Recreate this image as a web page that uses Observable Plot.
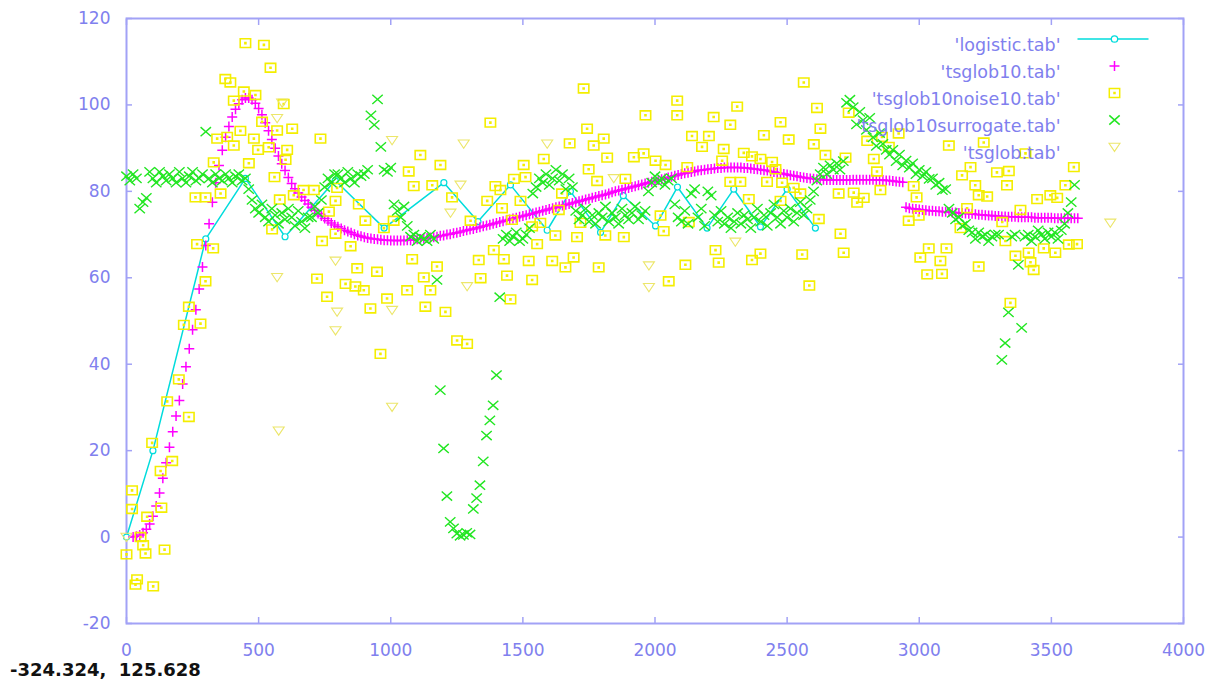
<!DOCTYPE html>
<html><head><meta charset="utf-8">
<script src="https://cdn.jsdelivr.net/npm/d3@7"></script>
<script src="https://cdn.jsdelivr.net/npm/@observablehq/plot@0.6"></script>
<style>
body{margin:0;background:#fff;}
#wrap{position:relative;width:1216px;height:686px;overflow:hidden;}
#readout{position:absolute;left:10px;top:659px;font:bold 18px "DejaVu Sans";line-height:21px;color:#111;white-space:pre;}
</style></head><body><div id="wrap"><div id="readout"></div></div>
<script>
// ---------- data ----------
const xTicks = [0, 500, 1000, 1500, 2000, 2500, 3000, 3500, 4000];
const yTicks = [-20, 0, 20, 40, 60, 80, 100, 120];
const legendLabels = ["'logistic.tab'", "'tsglob10.tab'", "'tsglob10noise10.tab'", "'tsglob10surrogate.tab'", "'tsglob.tab'"];
const readoutText = "-324.324,  125.628";

// logistic.tab (line + points)
const logisticX = [0, 100, 300, 450, 600, 790, 975, 1201, 1330, 1453, 1592, 1680, 1794, 1880, 2002, 2085, 2197, 2298, 2399, 2500, 2607];
const logisticY = [0, 20, 69, 83, 69.5, 82.5, 71.5, 82, 73, 81.5, 71, 80, 70.5, 79, 72, 81, 71.5, 80.5, 71.8, 80.5, 71.5];

// tsglob10.tab : time index starts at 25, step 12.5
const tsglob10Start = 25, tsglob10Step = 12.5;
const tsglob10 = [
 0, 0.2, 0.5, 1.0, 1.8, 3.0, 4.8, 7.2,
 10.2, 13.6, 17.2, 20.8, 24.4, 28, 31.6, 35.4,
 39.4, 43.6, 48, 52.6, 57.4, 62.5, 67.5, 72.5,
 77.5, 82, 86, 89.5, 92.5, 95, 97.2, 99,
 100.3, 101.2, 101.6, 101.6, 101.2, 100.4, 99.2, 97.7,
 95.9, 94, 92, 90, 88.2, 86.4, 84.8, 83.2,
 81.8, 80.6, 79.6, 78.7, 77.9, 77.1, 76.3, 75.6,
 74.9, 74.3, 73.7, 73.2, 72.7, 72.2, 71.8, 71.4,
 71, 70.7, 70.4, 70.1, 69.8, 69.6, 69.4, 69.2,
 69.1, 69, 68.9, 68.8, 68.7, 68.7, 68.6, 68.6,
 68.6, 68.6, 68.6, 68.7, 68.7, 68.8, 68.9, 69,
 69.1, 69.2, 69.3, 69.4, 69.5, 69.7, 69.8, 70,
 70.1, 70.3, 70.4, 70.6, 70.8, 71, 71.2, 71.3,
 71.5, 71.7, 71.9, 72.1, 72.3, 72.5, 72.7, 72.9,
 73.1, 73.3, 73.5, 73.7, 73.9, 74.1, 74.3, 74.5,
 74.7, 74.9, 75.1, 75.3, 75.5, 75.7, 75.9, 76.1,
 76.3, 76.5, 76.7, 76.9, 77.1, 77.3, 77.5, 77.7,
 77.9, 78.1, 78.3, 78.5, 78.7, 78.9, 79.1, 79.3,
 79.5, 79.8, 80, 80.2, 80.4, 80.6, 80.8, 81,
 81.2, 81.4, 81.6, 81.8, 82, 82.2, 82.4, 82.6,
 82.8, 83, 83.2, 83.4, 83.6, 83.8, 84, 84.2,
 84.3, 84.5, 84.6, 84.8, 84.9, 85, 85.1, 85.2,
 85.3, 85.4, 85.4, 85.5, 85.5, 85.5, 85.5, 85.5,
 85.5, 85.4, 85.4, 85.3, 85.2, 85.1, 85, 84.9,
 84.8, 84.6, 84.5, 84.3, 84.2, 84, 83.9, 83.7,
 83.6, 83.5, 83.3, 83.2, 83.1, 83, 82.9, 82.8,
 82.7, 82.7, 82.6, 82.6, 82.6, 82.6, 82.6, 82.6,
 82.6, 82.6, 82.7, 82.7, 82.7, 82.7, 82.7, 82.7,
 82.7, 82.6, 82.6, 82.6, 82.5, 82.5, 82.4, 82.3,
 82.2, 82.1, 76.3, 76.1, 76, 75.9, 75.8, 75.7,
 75.6, 75.5, 75.5, 75.4, 75.4, 75.3, 75.3, 75.2,
 75.1, 75.1, 75, 75, 74.9, 74.8, 74.8, 74.7,
 74.6, 74.6, 74.5, 74.4, 74.4, 74.3, 74.3, 74.2,
 74.2, 74.1, 74.1, 74.1, 74, 74, 74, 74,
 74, 73.9, 73.9, 73.9, 73.9, 73.9, 73.9, 73.8,
 73.8, 73.8, 73.8, 73.8, 73.8, 73.8, 73.8
];

// tsglob10noise10.tab (squares)
const noiseX = [0,21,21,34,40,53,63,72,78,97,101,129,132,144,154,173,198,217,236,236,261,267,280,299,299,328,330,343,356,374,381,393,406,406,431,444,450,463,482,488,498,513,520,538,545,551,560,570,580,595,602,608,627,633,
 670,709,721,734,740,759,766,791,791,797,829,848,866,873,879,898,904,923,948,961,974,986,1011,1062,1068,1081,1087,1112,1125,1131,1150,1157,1175,1188,1207,1232,1251,1289,1302,
 1333,1340,1365,1377,1390,1396,1415,1421,1428,1440,1453,1459,1466,1491,1503,1510,1522,1535,1535,1554,1566,1579,1611,1623,1636,1648,1661,1677,1692,1705,1718,1730,1743,1749,1768,1781,1787,1806,1812,1819,1882,1888,1920,1957,1964,
 2002,2021,2033,2040,2052,2084,2084,2115,2122,2128,2140,2178,2204,2222,2229,2241,2254,2260,2285,2285,2311,2323,2336,2355,2367,2367,2399,2399,2412,2424,2443,2456,2475,2475,2481,2506,2525,2550,2557,2563,2584,2601,2613,2620,2626,
 2645,2695,2702,2714,2721,2733,2752,2765,2790,2803,2828,2840,2853,2859,2885,2922,2960,2979,2990,2998,3004,3030,3036,3080,3086,3103,3112,3156,3162,3181,3194,3212,3225,3225,3244,3257,3294,
 3314,3326,3332,3339,3345,3364,3383,3402,3414,3421,3433,3446,3471,3496,3515,3522,3553,3566,3585,3597];
const noiseY = [-4,10.8,6.5,-11,-9.8,0,-1.9,-3.8,4.7,21.8,-11.4,15.3,6.8,-2.9,31.4,17.6,36.5,49.1,53.3,27.8,78.6,67.8,49.4,59.2,78.6,66.8,86.7,92.2,79.5,106,92.6,105.2,101,90.6,94,103.1,114.3,86.5,92.2,102.3,89.6,96.1,113.9,90.2,108.6,71.2,83.3,94.1,78.1,100.2,87.3,89.6,94.5,79.1,
 80.3,80.3,59.8,92.2,68.5,55.6,75.3,77.8,70.2,80.8,58.6,67.3,58,62.2,77,57.1,73.2,52.9,61.4,42.4,71.5,55.2,73.2,57.1,84.6,64.3,81.2,88.4,60.1,53.3,57.1,81.4,62.6,86.1,52.1,78.6,45.5,44.7,73.2,
 64.1,59.9,77.8,95.9,66.4,81.2,80.3,76.1,64.3,60.5,55,73.4,82.9,77.8,86.1,83.3,63.9,71.9,59.5,67.8,72.7,87.5,63.9,69.8,75.7,79.5,62.4,91.1,64.7,69.4,72.7,103.8,94.5,85.1,90.6,82.4,62.4,92.2,69.8,87.8,69.4,82.9,87.9,88.8,97.6,
 87.1,74.4,70.8,86.1,59.2,101,97.6,63,85.6,72.9,92.8,90.3,92.8,97.2,66.4,63.5,87.1,89.8,95.4,82.2,99.6,82.2,88.9,78.2,88.1,64.1,87.5,65.6,93,82.2,86.8,85.1,96,77.8,82,92,80.8,79.5,65.4,105.2,58.2,90.9,99.3,73.6,94.5,
 88.4,79.5,70.2,65.8,87.8,98.2,79.7,77.4,78.5,91.7,87.5,84.6,80.3,92.6,90.3,93.4,73.2,81.2,78.6,74.4,64.7,60.8,66.8,63.9,60.9,66.8,90.6,71.5,83.7,76.1,85.6,81.4,79.1,62.6,91.3,78.8,84.4,
 72.9,68.5,81.4,84.7,54.2,65.1,75.7,88.8,65.8,63.6,61.8,78.2,66.8,79.1,65.8,78.5,81.4,67.7,85.6,67.8];

// tsglob10surrogate.tab : time index starts at 0, step 12.5
const surrogateStart = 0, surrogateStep = 12.5;
const surrogate = [
 83.5, 82.5, 84, 83, 76, 77.5, 78.5, 84.5,
 83, 82, 84.5, 83.5, 82.5, 84, 83, 82,
 84.5, 83, 82, 83.5, 84.5, 82.5, 83, 84,
 93.8, 83, 82, 84, 83, 82.5, 84, 83,
 82, 83.5, 84, 82.5, 83, 80.5, 78, 76,
 75, 77, 74, 73, 76, 74.5, 72.5, 75,
 73.5, 76, 74, 72, 75.5, 73, 71.5, 74,
 74, 76.5, 75, 78, 81, 83, 82, 84,
 84, 83, 82, 84.5, 83, 82, 84, 83.5,
 84, 85, 97.6, 95.4, 101.3, 90.3, 85, 84.5,
 85.5, 77, 75.5, 74, 76.5, 72, 69.5, 70,
 68.5, 69.5, 69, 68.5, 70, 69, 59.5, 34,
 20.5, 9.5, 3.5, 2, 0.8, 0.3, 0.5, 1,
 0.6, 6.5, 9, 12, 17.5, 23.5, 27, 30.5,
 37.5, 55.5, 69, 70, 68.5, 69.5, 70.5, 68.5,
 69, 70, 71.5, 79.5, 81, 83, 82, 84,
 81.5, 83, 85, 82.5, 84, 80.5, 83, 81,
 75.5, 73.5, 74.5, 76, 73, 74.5, 72.5, 75,
 74, 76.5, 73, 75, 74, 72.5, 76, 74.5,
 73.5, 75, 76.5, 73.5, 74.5, 75.5, 80, 82,
 83.5, 82, 83, 81.5, 82.5, 83, 77, 74,
 73, 75.5, 72.5, 79.5, 80.5, 74, 76, 72,
 80, 79, 74.5, 73, 75.5, 72.5, 74, 71.5,
 73, 75, 72.5, 74.5, 73.5, 71.5, 74, 76,
 73, 74.5, 72, 75, 77, 74, 72.5, 75.5,
 74, 76, 73, 75, 77.5, 74.5, 76, 78,
 80, 82.5, 84, 85.5, 84, 86, 85, 86.5,
 85, 87, 100.5, 101.2, 99.5, 95.5, 98.4, 96.5,
 94.2, 97, 92.5, 90.5, 93.5, 91, 89.6, 88.5,
 89.6, 87, 88.5, 86, 87.1, 85.5, 86.5, 84,
 85, 83.5, 84.5, 82.9, 83, 81.5, 82, 80.3,
 80.5, 76, 75, 73.5, 74, 72, 72.5, 71,
 70.5, 69, 70.5, 69.5, 70, 68.5, 69.5, 70,
 70, 41, 44.9, 52, 69.5, 70, 63, 48.4,
 69.5, 70, 68.5, 69.5, 71, 70, 69, 70.5,
 69.5, 70.5, 69, 71, 72.5, 75, 77.5, 81.5
];

// tsglob.tab (inverted triangles)
const tsglobX = [0, 570, 589, 570, 576, 791, 797, 791, 1005, 1005, 1005, 1226, 1264, 1276, 1289, 1592, 1844, 1977, 1977, 2304, 3723];
const tsglobY = [0, 96.9, 100.5, 60.1, 24.6, 63.9, 52.1, 47.8, 91.8, 52.5, 30.1, 75, 81.5, 91, 58, 91, 83, 62.8, 57.8, 68.3, 72.7];

// ---------- styles ----------
const cyan = "#00dcdc", magenta = "#ff00ff", yellow = "#f4ee00", green = "#22e622", paleYellow = "#ece66a";
const axisCol = "#a2a2f6", textCol = "#8080ee";

const sqSym = {draw(c){ c.moveTo(-5.2,-4.4); c.lineTo(5.2,-4.4); c.lineTo(5.2,4.4); c.lineTo(-5.2,4.4); c.closePath();
  c.moveTo(-0.5,-0.5); c.lineTo(0.5,-0.5); c.lineTo(0.5,0.5); c.lineTo(-0.5,0.5); c.closePath(); }};
const plusSym = {draw(c){ c.moveTo(-5,0); c.lineTo(5,0); c.moveTo(0,-5); c.lineTo(0,5); }};
const timesSym = {draw(c){ c.moveTo(-5.2,-4.6); c.lineTo(5.2,4.6); c.moveTo(-5.2,4.6); c.lineTo(5.2,-4.6); }};
const triSym = {draw(c){ c.moveTo(-5.5,-3.8); c.lineTo(5.5,-3.8); c.lineTo(0,4.4); c.closePath(); }};
const keyLineSym = {draw(c){ c.moveTo(-35.5,0); c.lineTo(35.5,0); }};

const idx = n => d3.range(n);
const plain = d => String(d);

const legendMarks = [];
const legendSyms = [null, plusSym, sqSym, timesSym, triSym];
const legendCols = [cyan, magenta, yellow, green, paleYellow];
legendLabels.forEach((lab, i) => {
  const dy = 20.5 + 27 * i;
  legendMarks.push(Plot.text([lab], {frameAnchor: "top-right", dx: -123, dy, text: d => d, textAnchor: "end",
    fill: textCol, fontSize: 17.5, fontFamily: "DejaVu Sans"}));
  if (i === 0) {
    legendMarks.push(Plot.dot([0], {frameAnchor: "top-right", dx: -70.5, dy, symbol: keyLineSym, stroke: cyan, fill: "none", strokeWidth: 1.5}));
    legendMarks.push(Plot.dot([0], {frameAnchor: "top-right", dx: -69, dy, symbol: "circle", r: 3.2, stroke: cyan, fill: "white", strokeWidth: 1.3}));
  } else {
    legendMarks.push(Plot.dot([0], {frameAnchor: "top-right", dx: -69, dy, symbol: legendSyms[i], stroke: legendCols[i], fill: "none", strokeWidth: i === 4 ? 1.1 : 1.5}));
  }
});

const chart = Plot.plot({
  width: 1216, height: 686,
  marginLeft: 126, marginRight: 33, marginTop: 18, marginBottom: 63,
  x: {domain: [0, 4000], label: null},
  y: {domain: [-20, 120], label: null},
  style: {fontFamily: "DejaVu Sans", background: "white"},
  marks: [
    // inward tick marks on all four sides
    Plot.axisX({ticks: xTicks, anchor: "bottom", tickSize: 6, dy: -6, tickFormat: () => "", stroke: axisCol, strokeWidth: 1.5, label: null}),
    Plot.axisX({ticks: xTicks, anchor: "top", tickSize: 6, dy: 6, tickFormat: () => "", stroke: axisCol, strokeWidth: 1.5, label: null}),
    Plot.axisY({ticks: yTicks, anchor: "left", tickSize: 6, dx: 6, tickFormat: () => "", stroke: axisCol, strokeWidth: 1.5, label: null}),
    Plot.axisY({ticks: yTicks, anchor: "right", tickSize: 6, dx: -6, tickFormat: () => "", stroke: axisCol, strokeWidth: 1.5, label: null}),
    // tick labels
    Plot.axisX({ticks: xTicks, anchor: "bottom", tickSize: 0, tickPadding: 20, tickFormat: plain, fill: textCol, fontSize: 17, label: null}),
    Plot.axisY({ticks: yTicks, anchor: "left", tickSize: 0, tickPadding: 16, tickFormat: plain, fill: textCol, fontSize: 17, label: null}),
    Plot.frame({stroke: axisCol, strokeWidth: 2}),
    // logistic.tab
    Plot.line(idx(logisticX.length), {x: i => logisticX[i], y: i => logisticY[i], stroke: cyan, strokeWidth: 1.5}),
    Plot.dot(idx(logisticX.length), {x: i => logisticX[i], y: i => logisticY[i], symbol: "circle", r: 3, stroke: cyan, fill: "white", strokeWidth: 1.2}),
    // tsglob10.tab
    Plot.dot(idx(tsglob10.length), {x: i => tsglob10Start + i * tsglob10Step, y: i => tsglob10[i], symbol: plusSym, stroke: magenta, fill: "none", strokeWidth: 1.5}),
    // tsglob10noise10.tab
    Plot.dot(idx(noiseX.length), {x: i => noiseX[i], y: i => noiseY[i], symbol: sqSym, stroke: yellow, fill: "none", strokeWidth: 1.6}),
    // tsglob10surrogate.tab
    Plot.dot(idx(surrogate.length), {x: i => surrogateStart + i * surrogateStep, y: i => surrogate[i], symbol: timesSym, stroke: green, fill: "none", strokeWidth: 1.4}),
    // tsglob.tab
    Plot.dot(idx(tsglobX.length), {x: i => tsglobX[i], y: i => tsglobY[i], symbol: triSym, stroke: paleYellow, fill: "none", strokeWidth: 1.1}),
    ...legendMarks
  ]
});
document.getElementById("wrap").prepend(chart);
document.getElementById("readout").textContent = readoutText;
</script></body></html>
